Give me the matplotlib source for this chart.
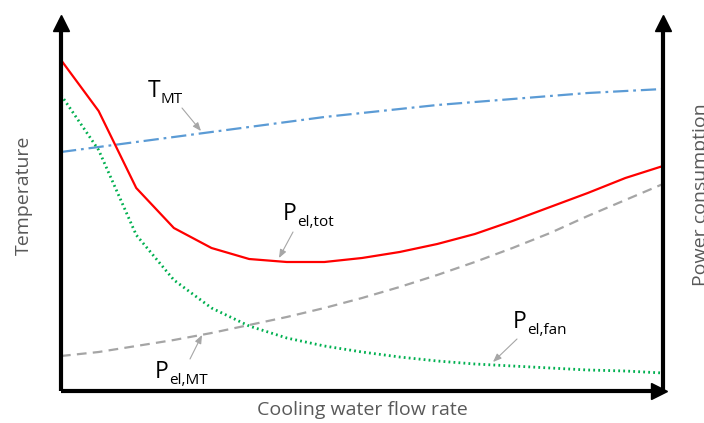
import matplotlib
matplotlib.use("Agg")
import matplotlib.pyplot as plt
from matplotlib.transforms import ScaledTranslation

plt.rcParams["font.family"] = ["Open Sans", "DejaVu Sans"]
plt.rcParams["lines.scale_dashes"] = False

# flow rate steps (arbitrary units)
flow = list(range(17))
# curves, arbitrary units (0 = x axis)
t_mt = [239, 244, 249, 254, 259, 264, 269, 274, 278, 282, 286, 289, 292, 295, 298, 300, 302]
p_el_tot = [331, 280, 203, 163, 143, 132, 129, 129, 133, 139, 147, 157, 170, 184, 198, 213, 225]
p_el_fan = [296, 241, 156, 111, 83, 65, 53, 45, 39, 34, 30, 27, 25, 23, 21, 20, 18]
p_el_mt = [35, 39, 45, 51, 58, 66, 74, 83, 93, 104, 116, 129, 143, 158, 175, 191, 207]

label_color = "#595959"
arrow_color = "#a6a6a6"

fig = plt.figure(figsize=(7.04, 4.23), dpi=100)
ax = fig.add_axes([61 / 704, 32 / 423, 602 / 704, 371 / 423])
ax.set_xlim(0, 16)
ax.set_ylim(0, 371)

ax.plot(flow, t_mt, color="#5b9bd5", lw=1.6, linestyle=(0, (11, 3.5, 2, 3.5)))
ax.plot(flow, p_el_mt, color="#a5a5a5", lw=1.6, linestyle=(0, (7, 4.5)))
ax.plot(flow, p_el_fan, color="#00b050", lw=2.0, linestyle=(0, (1.3, 2.3)))
ax.plot(flow, p_el_tot, color="#ff0000", lw=1.6)

# axes: thick spines with arrow heads
ax.set_xticks([])
ax.set_yticks([])
ax.spines["top"].set_visible(False)
for side in ("left", "bottom", "right"):
    ax.spines[side].set_linewidth(3)
    ax.spines[side].set_color("black")
    ax.spines[side].set_capstyle("butt")

head = dict(color="black", markersize=11, clip_on=False)
up = ax.transAxes + ScaledTranslation(0, -2 / 72, fig.dpi_scale_trans)
ax.plot([0], [1], marker="^", transform=up, **head)
ax.plot([1], [1], marker="^", transform=up, **head)
ax.plot([1], [0], marker=">", transform=ax.transAxes + ScaledTranslation(-3 / 72, 0, fig.dpi_scale_trans), **head)


def px(x, y):
    # reference pixel position -> data coords
    return ((x - 61) / 602 * 16, 391 - y)


labels = [
    ("T", "MT", (148, 97), (182, 108), (201, 131)),
    ("P", "el,tot", (283, 220), (293, 232), (279, 258)),
    ("P", "el,MT", (155, 378), (190, 359), (202, 335)),
    ("P", "el,fan", (513, 328), (517, 339), (493, 362)),
]
fig.canvas.draw()
renderer = fig.canvas.get_renderer()
for main, sub, pos, tail, tip in labels:
    t = ax.text(*px(*pos), main, fontsize=16.5, ha="left", va="baseline", color="black")
    bb = t.get_window_extent(renderer)
    # subscript placed right after the main letter, a bit lower
    ax.annotate(sub, xy=(bb.x1, 0), xycoords=("figure pixels", t),
                xytext=(0, 0), textcoords="offset points", fontsize=11,
                ha="left", va="baseline", color="black")
    ax.annotate("", xy=px(*tip), xytext=px(*tail),
                arrowprops=dict(arrowstyle="-|>,head_length=0.5,head_width=0.2",
                                color=arrow_color, lw=0.8, shrinkA=0, shrinkB=0))

fig.text(362 / 704, 1 - 410 / 423, "Cooling water flow rate", fontsize=14,
         color=label_color, ha="center", va="center")
fig.text(24 / 704, 1 - 195 / 423, "Temperature", fontsize=14, rotation=90,
         color=label_color, ha="center", va="center")
fig.text(701 / 704, 1 - 195 / 423, "Power consumption", fontsize=14, rotation=90,
         color=label_color, ha="center", va="center")

fig.savefig("out.png", dpi=100, facecolor="white")
